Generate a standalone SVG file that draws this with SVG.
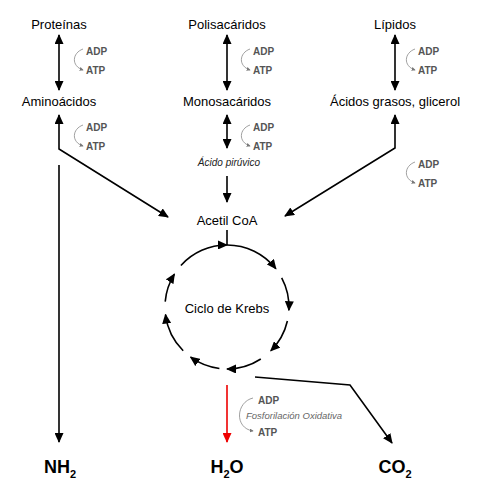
<svg xmlns="http://www.w3.org/2000/svg" width="480" height="496" viewBox="0 0 480 496">
<defs>
<style>
.lbl{font-family:"Liberation Sans",Arial,Helvetica,sans-serif;font-size:13px;fill:#000;text-anchor:middle}
.it{font-family:"Liberation Sans",Arial,sans-serif;font-size:10px;font-style:italic;fill:#222;text-anchor:middle}
.en{font-family:"Liberation Sans",Arial,sans-serif;font-size:10px;font-weight:bold;fill:#555}
.fo{font-family:"Liberation Sans",Arial,sans-serif;font-size:9.5px;font-style:italic;fill:#666}
.big{font-family:"Liberation Sans",Arial,sans-serif;font-size:18px;font-weight:bold;fill:#000;text-anchor:middle}
.ln{fill:none;stroke:#000;stroke-width:1.6}
.cy{fill:none;stroke:#000;stroke-width:1.6}
.cv{fill:none;stroke:#888;stroke-width:0.8}
</style>
<marker id="ah" viewBox="0 0 10 9" refX="9" refY="4.5" markerWidth="10" markerHeight="9" markerUnits="userSpaceOnUse" orient="auto-start-reverse">
<path d="M0,0 L10,4.5 L0,9 z" fill="#000"/>
</marker>
<marker id="ahr" viewBox="0 0 10 9" refX="9" refY="4.5" markerWidth="10" markerHeight="9" markerUnits="userSpaceOnUse" orient="auto">
<path d="M0,0 L10,4.5 L0,9 z" fill="#e00"/>
</marker>
<marker id="as" viewBox="0 0 6 6" refX="5" refY="3" markerWidth="4" markerHeight="4" markerUnits="userSpaceOnUse" orient="auto">
<path d="M0,0 L6,3 L0,6 z" fill="#777"/>
</marker>
</defs>

<g id="proteinas"><text class="lbl" x="59" y="29">Proteínas</text></g>
<g id="polisacaridos"><text class="lbl" x="227" y="29">Polisacáridos</text></g>
<g id="lipidos"><text class="lbl" x="395" y="29">Lípidos</text></g>
<g id="aminoacidos"><text class="lbl" x="59" y="106">Aminoácidos</text></g>
<g id="monosacaridos"><text class="lbl" x="227" y="106">Monosacáridos</text></g>
<g id="acidos-grasos"><text class="lbl" x="395" y="106">Ácidos grasos, glicerol</text></g>
<g id="acido-piruvico"><text class="it" x="229" y="166">Ácido pirúvico</text></g>
<g id="acetil-coa"><text class="lbl" x="227" y="225">Acetil CoA</text></g>
<g id="krebs"><text class="lbl" x="227" y="313">Ciclo de Krebs</text></g>
<g id="nh2"><text class="big" x="60" y="473">NH<tspan font-size="11" dy="5">2</tspan></text></g>
<g id="h2o"><text class="big" x="227" y="473">H<tspan font-size="11" dy="5">2</tspan><tspan dy="-5">O</tspan></text></g>
<g id="co2"><text class="big" x="395" y="473">CO<tspan font-size="11" dy="5">2</tspan></text></g>

<g id="energy">
<text class="en" x="86" y="55">ADP</text><text class="en" x="86" y="74">ATP</text>
<path class="cv" d="M83,49 C72,53 71,66 83,70" marker-end="url(#as)"/>
<text class="en" x="86" y="131">ADP</text><text class="en" x="86" y="150">ATP</text>
<path class="cv" d="M83,125 C72,129 71,142 83,146" marker-end="url(#as)"/>
<text class="en" x="253" y="55">ADP</text><text class="en" x="253" y="74">ATP</text>
<path class="cv" d="M250,49 C239,53 238,66 250,70" marker-end="url(#as)"/>
<text class="en" x="253" y="131">ADP</text><text class="en" x="253" y="150">ATP</text>
<path class="cv" d="M250,125 C239,129 238,142 250,146" marker-end="url(#as)"/>
<text class="en" x="418" y="55">ADP</text><text class="en" x="418" y="74">ATP</text>
<path class="cv" d="M415,49 C404,53 403,66 415,70" marker-end="url(#as)"/>
<text class="en" x="418" y="168">ADP</text><text class="en" x="418" y="187">ATP</text>
<path class="cv" d="M415,162 C404,166 403,179 415,183" marker-end="url(#as)"/>
<text class="en" x="258" y="404">ADP</text><text class="en" x="258" y="436">ATP</text>
<text class="fo" x="246" y="419">Fosforilación Oxidativa</text>
<path class="cv" d="M253,398 C236,402 234,428 253,431" marker-end="url(#as)"/>
</g>

<g id="connectors">
<path class="ln" d="M59,35 L59,90" marker-start="url(#ah)" marker-end="url(#ah)"/>
<path class="ln" d="M227,35 L227,90" marker-start="url(#ah)" marker-end="url(#ah)"/>
<path class="ln" d="M395,35 L395,90" marker-start="url(#ah)" marker-end="url(#ah)"/>
<path class="ln" d="M227,115 L227,148" marker-start="url(#ah)" marker-end="url(#ah)"/>
<path class="ln" d="M59,115 L59,149 L168,217" marker-start="url(#ah)" marker-end="url(#ah)"/>
<path class="ln" d="M395,115 L395,148 L285,216" marker-start="url(#ah)" marker-end="url(#ah)"/>
<path class="ln" d="M227,176 L227,202" marker-end="url(#ah)"/>
<path class="ln" d="M59,165 L59,442" marker-end="url(#ah)"/>
<path class="ln" d="M227,230 L227,245"/>
<path class="cy" d="M227,245 A62,62 0 0 1 275.9,268.8" marker-end="url(#ah)"/>
<path class="cy" d="M281.7,277.9 A62,62 0 0 1 288.9,310.2" marker-end="url(#ah)"/>
<path class="cy" d="M287.4,321 A62,62 0 0 1 270.8,350.8" marker-end="url(#ah)"/>
<path class="cy" d="M260.8,359 A62,62 0 0 1 227,369" marker-end="url(#ah)"/>
<path class="cy" d="M219.4,368.5 A62,62 0 0 1 190.6,357.2" marker-end="url(#ah)"/>
<path class="cy" d="M183.2,350.8 A62,62 0 0 1 165.5,314.6" marker-end="url(#ah)"/>
<path class="cy" d="M165.2,301.6 A62,62 0 0 1 174.4,274.1" marker-end="url(#ah)"/>
<path class="cy" d="M180.9,265.5 A62,62 0 0 1 227,245" marker-end="url(#ah)"/>
<path class="ln" d="M255,377 L350,385 L392,443" marker-end="url(#ah)"/>
<path d="M227,385 L227,442" fill="none" stroke="#e00" stroke-width="1.6" marker-end="url(#ahr)"/>
</g>
</svg>
